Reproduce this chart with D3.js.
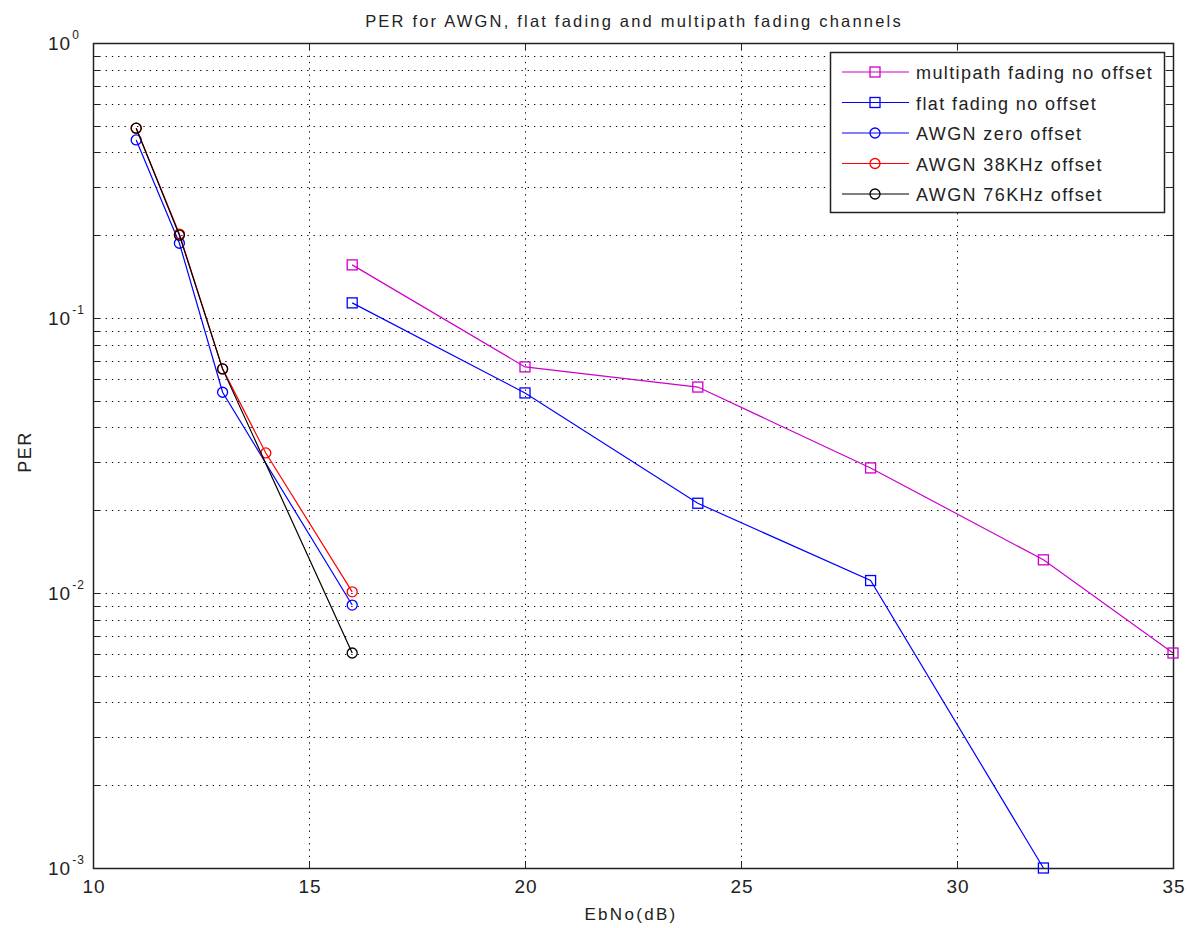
<!DOCTYPE html>
<html>
<head>
<meta charset="utf-8">
<script src="https://cdn.jsdelivr.net/npm/d3@7"></script>
<style>
  body { margin: 0; background: #fff; }
  text { font-family: "Liberation Sans", Arial, sans-serif; fill: #222; }
</style>
</head>
<body>
<div id="chart"></div>
<script>
// PER vs EbNo, log scale y
var titleText = "PER for AWGN, flat fading and multipath fading channels";
var xTicks = [10, 15, 20, 25, 30, 35];
var yDecades = [0, -1, -2, -3];

var multipathX = [16, 20, 24, 28, 32, 35];
var multipathY = [0.156, 0.0664, 0.0561, 0.0285, 0.0132, 0.00605];

var flatX = [16, 20, 24, 28, 32];
var flatY = [0.1135, 0.0534, 0.0212, 0.0111, 0.001];

var awgn0X = [11, 12, 13, 16];
var awgn0Y = [0.444, 0.187, 0.0537, 0.00904];

var awgn38X = [11, 12, 13, 14, 16];
var awgn38Y = [0.49, 0.202, 0.0653, 0.0323, 0.0101];

var awgn76X = [11, 12, 13, 16];
var awgn76Y = [0.49, 0.2, 0.0653, 0.00605];

var series = [
  {name: "multipath fading no offset", xs: multipathX, ys: multipathY, color: "#cc00cc", marker: "square"},
  {name: "flat fading no offset", xs: flatX, ys: flatY, color: "#0000ff", marker: "square"},
  {name: "AWGN zero offset", xs: awgn0X, ys: awgn0Y, color: "#0000ff", marker: "circle"},
  {name: "AWGN 38KHz offset", xs: awgn38X, ys: awgn38Y, color: "#ff0000", marker: "circle"},
  {name: "AWGN 76KHz offset", xs: awgn76X, ys: awgn76Y, color: "#000000", marker: "circle"}
];

var W = 1187, H = 928;
var margin = {left: 93, top: 43, right: 1187 - 1173, bottom: 928 - 868};
var pw = W - margin.left - margin.right, ph = H - margin.top - margin.bottom;

var svg = d3.select("#chart").append("svg")
  .attr("width", W).attr("height", H);

var x = d3.scaleLinear().domain([10, 35]).range([0, pw]);
var y = d3.scaleLog().domain([0.001, 1]).range([ph, 0]);

var g = svg.append("g").attr("transform", "translate(" + margin.left + "," + margin.top + ")");

// minor y values in every decade
var yGrid = [];
for (var d = -3; d < 0; d++) {
  for (var k = 1; k <= 9; k++) yGrid.push(k * Math.pow(10, d));
}

// grid lines (dotted)
g.selectAll(".ygrid").data(yGrid.filter(function(v){ return v > 0.001; }))
  .enter().append("line")
  .attr("x1", 0).attr("x2", pw)
  .attr("y1", function(v){ return Math.round(y(v)) + 0.5; })
  .attr("y2", function(v){ return Math.round(y(v)) + 0.5; })
  .attr("stroke", "#000").attr("stroke-width", 1).attr("stroke-dasharray", "1.3,5");
g.selectAll(".xgrid").data(xTicks.slice(1, -1))
  .enter().append("line")
  .attr("y1", 0).attr("y2", ph)
  .attr("x1", function(v){ return Math.round(x(v)) + 0.5; })
  .attr("x2", function(v){ return Math.round(x(v)) + 0.5; })
  .attr("stroke", "#000").attr("stroke-width", 1).attr("stroke-dasharray", "1.3,5");

// ticks inward on all sides
var tl = 7;
yGrid.forEach(function(v){
  var yy = Math.round(y(v)) + 0.5;
  g.append("line").attr("x1", 0).attr("x2", tl).attr("y1", yy).attr("y2", yy).attr("stroke", "#222");
  g.append("line").attr("x1", pw - tl).attr("x2", pw).attr("y1", yy).attr("y2", yy).attr("stroke", "#222");
});
xTicks.forEach(function(v){
  var xx = Math.round(x(v)) + 0.5;
  g.append("line").attr("x1", xx).attr("x2", xx).attr("y1", ph).attr("y2", ph - tl).attr("stroke", "#222");
  g.append("line").attr("x1", xx).attr("x2", xx).attr("y1", 0).attr("y2", tl).attr("stroke", "#222");
});

// box
g.append("rect").attr("x", 0.5).attr("y", 0.5).attr("width", pw).attr("height", ph)
  .attr("fill", "none").attr("stroke", "#222").attr("stroke-width", 1.5);

// x tick labels
g.selectAll(".xlab").data(xTicks).enter().append("text")
  .attr("x", function(v){ return x(v) + 1; })
  .attr("y", ph + 25)
  .attr("text-anchor", "middle")
  .style("font-size", "19px").style("letter-spacing", "1px")
  .text(function(v){ return v; });

// y tick labels 10^n
yDecades.forEach(function(e){
  var t = g.append("text")
    .attr("x", -45).attr("y", y(Math.pow(10, e)) + 7)
    .style("font-size", "19px").style("letter-spacing", "1px");
  t.append("tspan").text("10");
  t.append("tspan").attr("dy", -11).attr("dx", 1).style("font-size", "12px").text(e === 0 ? "0" : "-" + (-e));
});

// lines and markers
var line = d3.line().x(function(p){ return x(p[0]); }).y(function(p){ return y(p[1]); });

series.forEach(function(s){
  var pts = s.xs.map(function(v, i){ return [v, s.ys[i]]; });
  g.append("path").datum(pts)
    .attr("d", line).attr("fill", "none")
    .attr("stroke", s.color).attr("stroke-width", 1.2);
  pts.forEach(function(p){
    drawMarker(g, s.marker, x(p[0]), y(p[1]), s.color);
  });
});

function drawMarker(parent, type, cx, cy, color) {
  if (type === "square") {
    parent.append("rect").attr("x", cx - 5).attr("y", cy - 5)
      .attr("width", 10).attr("height", 10)
      .attr("fill", "none").attr("stroke", color).attr("stroke-width", 1.3);
  } else {
    parent.append("circle").attr("cx", cx).attr("cy", cy).attr("r", 5)
      .attr("fill", "none").attr("stroke", color).attr("stroke-width", 1.3);
  }
}

// legend
var lx = 830, ly = 52, lw = 334, lh = 160;
var leg = svg.append("g");
leg.append("rect").attr("x", lx + 0.5).attr("y", ly + 0.5).attr("width", lw).attr("height", lh)
  .attr("fill", "#fff").attr("stroke", "#222").attr("stroke-width", 1.5);
series.forEach(function(s, i){
  var yy = 72 + i * 30.5;
  leg.append("line").attr("x1", 842).attr("x2", 909).attr("y1", yy).attr("y2", yy)
    .attr("stroke", s.color).attr("stroke-width", 1.2);
  drawMarker(leg, s.marker, 875, yy, s.color);
  leg.append("text").attr("x", 916).attr("y", yy + 7)
    .style("font-size", "18px").style("letter-spacing", "1.4px").text(s.name);
});

// title and axis labels
svg.append("text").attr("x", 634).attr("y", 27)
  .attr("text-anchor", "middle").style("font-size", "16.5px").style("letter-spacing", "2.2px").text(titleText);
svg.append("text").attr("x", 631).attr("y", 920)
  .attr("text-anchor", "middle").style("font-size", "17px").style("letter-spacing", "2.3px").text("EbNo(dB)");
svg.append("text").attr("transform", "translate(31,452) rotate(-90)")
  .attr("text-anchor", "middle").style("font-size", "18px").style("letter-spacing", "1.5px").text("PER");
</script>
</body>
</html>
